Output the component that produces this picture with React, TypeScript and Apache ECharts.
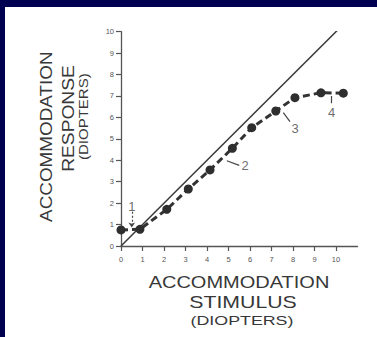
import React, { useEffect, useRef } from 'react';
import * as echarts from 'echarts';

const xTicks = [0, 1, 2, 3, 4, 5, 6, 7, 8, 9, 10];
const yTicks = [0, 1, 2, 3, 4, 5, 6, 7, 8, 9, 10];

const responseData: [number, number][] = [
  [0, 0.75], [0.88, 0.78], [2.13, 1.71], [3.13, 2.66], [4.14, 3.55], [5.18, 4.56],
  [6.08, 5.52], [7.2, 6.3], [8.09, 6.92], [9.3, 7.15], [10.34, 7.13],
];
const unityLine: [number, number][] = [[0, 0], [10.42, 10.42]];

const annotationNames = ['1', '2', '3', '4'];
const annotationPos: [number, number][] = [[0.5, 1.85], [5.77, 3.75], [8.1, 5.5], [9.8, 6.22]];
const leaderLines: [number, number][][] = [
  [[4.92, 3.98], [5.5, 3.76]],
  [[7.55, 6.22], [7.86, 5.8]],
  [[9.8, 7.0], [9.8, 6.66]],
];
const arrowLine: [number, number][] = [[0.5, 1.6], [0.5, 0.86]];

const TEXT = '#383838';
const FONT = '"Liberation Sans", Arial, sans-serif';

export default function App() {
  const ref = useRef<HTMLDivElement>(null);
  useEffect(() => {
    if (!ref.current) return;
    const chart = echarts.init(ref.current, undefined, { renderer: 'svg' });
    const title = (text: string, x: number, y: number, size: number, sx: number, rot = 0) => ({
      type: 'text',
      x, y, rotation: rot, scaleX: sx,
      style: { text, fill: TEXT, font: `${size}px ${FONT}`, align: 'center', verticalAlign: 'middle' },
    });
    chart.setOption({
      animation: false,
      backgroundColor: '#ffffff',
      color: ['#333'],
      grid: { left: 121, right: 19.5, top: 31.7, bottom: 91 },
      xAxis: {
        type: 'value', min: 0, max: 11, interval: 1,
        axisLine: { show: true, lineStyle: { color: '#555', width: 1.3 } },
        axisTick: { show: true, length: 5, customValues: xTicks, lineStyle: { color: '#555', width: 1.2 } },
        axisLabel: { customValues: xTicks, fontSize: 7.5, color: '#555', margin: 9, fontFamily: FONT },
        splitLine: { show: false },
      },
      yAxis: {
        type: 'value', min: 0, max: 10, interval: 1,
        axisLine: { show: true, lineStyle: { color: '#555', width: 1.3 } },
        axisTick: { show: true, length: 5, customValues: yTicks, lineStyle: { color: '#555', width: 1.2 } },
        axisLabel: { customValues: yTicks, fontSize: 7.5, color: '#555', margin: 7, fontFamily: FONT },
        splitLine: { show: false },
      },
      series: [
        {
          type: 'line', data: unityLine, showSymbol: false, z: 2,
          itemStyle: { color: '#3a3a3a' },
          lineStyle: { color: '#3a3a3a', width: 1.5 },
        },
        {
          type: 'line', data: responseData, symbol: 'circle', symbolSize: 9, z: 3,
          itemStyle: { color: '#2e2e2e' },
          lineStyle: { color: '#333', width: 3, type: [7, 4] },
          markLine: {
            silent: true,
            symbol: ['none', 'arrow'],
            symbolSize: 5,
            label: { show: false },
            lineStyle: { color: '#444', width: 1.2, type: [2, 2] },
            itemStyle: { color: '#444' },
            emphasis: { disabled: true },
            data: [[{ coord: arrowLine[0] }, { coord: arrowLine[1] }]],
          },
        },
        {
          type: 'lines', coordinateSystem: 'cartesian2d', z: 3,
          data: leaderLines.map((c) => ({ coords: c })),
          itemStyle: { color: '#444' },
          lineStyle: { color: '#444', width: 1.2, type: 'solid', opacity: 1 },
          symbol: 'none',
        },
        {
          type: 'scatter', symbolSize: 1, z: 4,
          itemStyle: { color: 'rgba(0,0,0,0)' },
          data: annotationNames.map((n, i) => ({ name: n, value: annotationPos[i] })),
          label: { show: true, position: 'inside', formatter: '{b}', fontSize: 13, color: '#444', fontFamily: FONT },
        },
      ],
      graphic: [
        { type: 'rect', shape: { x: 0, y: 0, width: 377, height: 7 }, style: { fill: '#000050' } },
        { type: 'rect', shape: { x: 0, y: 0, width: 5, height: 337 }, style: { fill: '#000050' } },
        title('ACCOMMODATION', 239, 282.5, 16, 1.25),
        title('STIMULUS', 243, 302, 16, 1.33),
        title('(DIOPTERS)', 242, 320, 13, 1.37),
        title('ACCOMMODATION', 47, 136.7, 16, 1.18, Math.PI / 2),
        title('RESPONSE', 69, 118.5, 16, 1.2, Math.PI / 2),
        title('(DIOPTERS)', 84, 116.7, 12, 1.25, Math.PI / 2),
      ],
    });
    return () => chart.dispose();
  }, []);
  return (
    <div
      ref={ref}
      style={{ position: 'fixed', left: 0, top: 0, width: 377, height: 337, background: '#fff' }}
    />
  );
}
